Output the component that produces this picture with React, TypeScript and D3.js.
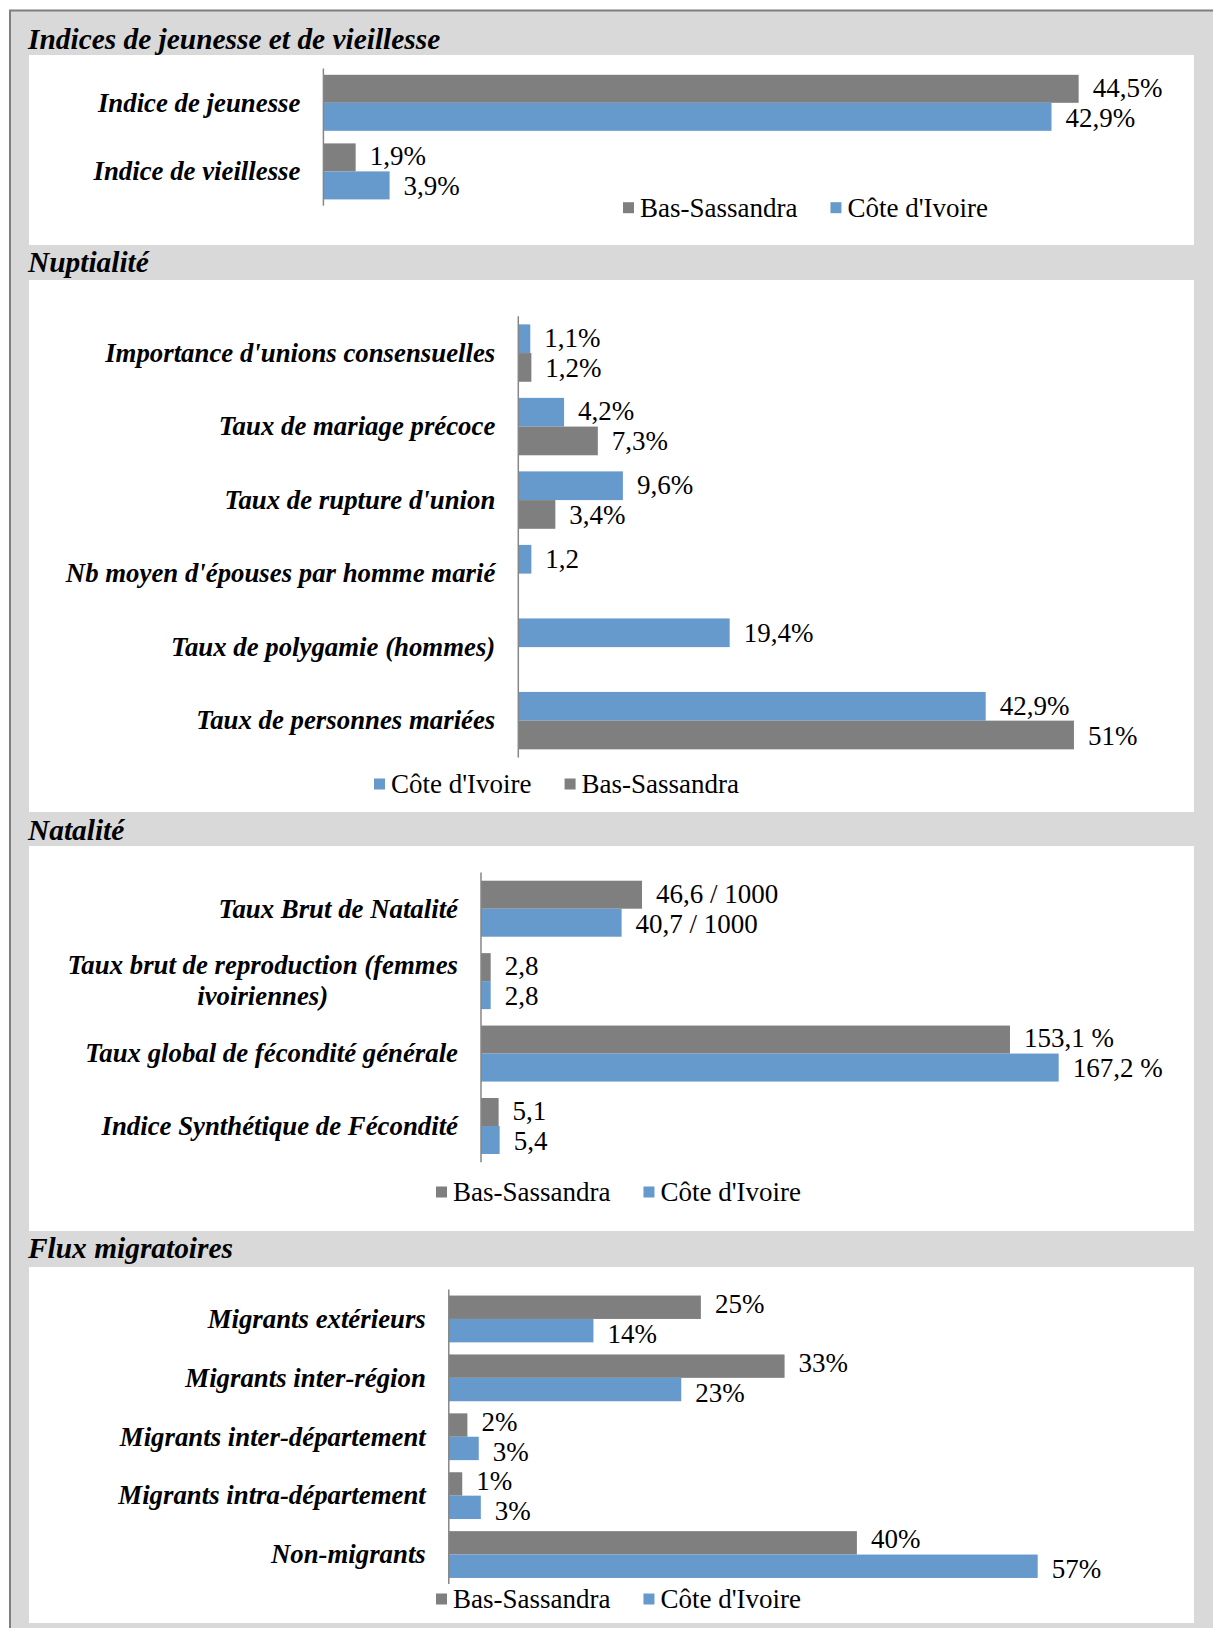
import React from 'react';
import * as d3 from 'd3';

// ---------- data ----------
const seriesNames = { bas: 'Bas-Sassandra', ci: "Côte d'Ivoire" };

const p1Title = 'Indices de jeunesse et de vieillesse';
const p1Categories = ['Indice de jeunesse', 'Indice de vieillesse'];
const p1Bas = [44.5, 1.9];
const p1BasLabels = ['44,5%', '1,9%'];
const p1Ci = [42.9, 3.9];
const p1CiLabels = ['42,9%', '3,9%'];

const p2Title = 'Nuptialité';
const p2Categories = [
  "Importance d'unions consensuelles",
  'Taux de mariage précoce',
  "Taux de rupture d'union",
  "Nb moyen d'épouses par homme marié",
  'Taux de polygamie (hommes)',
  'Taux de personnes mariées',
];
const p2Ci = [1.1, 4.2, 9.6, 1.2, 19.4, 42.9];
const p2CiLabels = ['1,1%', '4,2%', '9,6%', '1,2', '19,4%', '42,9%'];
const p2Bas = [1.2, 7.3, 3.4, null, null, 51];
const p2BasLabels = ['1,2%', '7,3%', '3,4%', null, null, '51%'];

const p3Title = 'Natalité';
const p3Categories = [
  'Taux Brut de Natalité',
  'Taux brut de reproduction (femmes\nivoiriennes)',
  'Taux global de fécondité générale',
  'Indice Synthétique de Fécondité',
];
const p3Bas = [46.6, 2.8, 153.1, 5.1];
const p3BasLabels = ['46,6 / 1000', '2,8', '153,1 %', '5,1'];
const p3Ci = [40.7, 2.8, 167.2, 5.4];
const p3CiLabels = ['40,7 / 1000', '2,8', '167,2 %', '5,4'];

const p4Title = 'Flux migratoires';
const p4Categories = [
  'Migrants extérieurs',
  'Migrants inter-région',
  'Migrants inter-département',
  'Migrants intra-département',
  'Non-migrants',
];
const p4Bas = [24.4, 32.5, 1.8, 1.3, 39.5];
const p4BasLabels = ['25%', '33%', '2%', '1%', '40%'];
const p4Ci = [14, 22.5, 2.9, 3.1, 57];
const p4CiLabels = ['14%', '23%', '3%', '3%', '57%'];

// ---------- styles ----------
const GRAY = '#7f7f7f';
const BLUE = '#6699cc';
const FONT = "'Liberation Serif', 'Times New Roman', serif";
const VAL_FS = 27;
const CAT_FS = 26.8;
const TITLE_FS = 29.4;
const LEG_FS = 27;

const measure = (text: string, font: string) => {
  const c = document.createElement('canvas').getContext('2d');
  if (!c) return text.length * 12;
  c.font = font;
  return c.measureText(text).width;
};

type Series = { key: 'bas' | 'ci'; values: (number | null)[]; labels: (string | null)[] };

type PanelProps = {
  title: string;
  titleY: number;
  panelTop: number;
  panelBottom: number;
  categories: string[];
  series: Series[]; // top to bottom within each category
  axisX: number;
  yRange: [number, number];
  barH: number;
  domainMax: number;
  legendX: number;
  legendY: number;
  legendOrder: ('bas' | 'ci')[];
};

const PANEL_LEFT = 29;
const PANEL_RIGHT = 1194;
const PLOT_RIGHT = 1172;

function Panel(p: PanelProps) {
  const x = d3.scaleLinear().domain([0, p.domainMax]).range([p.axisX, PLOT_RIGHT]);
  const y = d3.scaleBand<string>().domain(p.categories).range(p.yRange).paddingInner(0).paddingOuter(0);
  const color = (k: string) => (k === 'bas' ? GRAY : BLUE);
  const n = p.series.length;
  const labelRight = p.axisX - 23;
  const minSep = 30; // keep stacked value labels from colliding
  const push = Math.max(0, (minSep - p.barH) / 2);

  // legend layout
  const legFont = `${LEG_FS}px ${FONT}`;
  let lx = p.legendX;
  const legItems = p.legendOrder.map((k) => {
    const item = { k, x: lx };
    lx += 17 + measure(seriesNames[k], legFont) + 33;
    return item;
  });

  return (
    <g>
      <text x={28} y={p.titleY} fontFamily={FONT} fontSize={TITLE_FS} fontWeight="bold" fontStyle="italic" fill="#000">
        {p.title}
      </text>
      <rect x={PANEL_LEFT} y={p.panelTop} width={PANEL_RIGHT - PANEL_LEFT} height={p.panelBottom - p.panelTop} fill="#fff" />
      {p.categories.map((c, i) => {
        const center = (y(c) as number) + y.bandwidth() / 2;
        const present = p.series.filter((s) => s.labels[i]).length;
        return (
          <g key={c}>
            {p.series.map((s, j) => {
              const v = s.values[i];
              if (v === null || v === undefined) return null;
              const top = center - (n * p.barH) / 2 + j * p.barH;
              const lab = s.labels[i];
              const dy = present > 1 ? (j === 0 ? -push : push) : 0;
              return (
                <g key={s.key}>
                  <rect x={x(0)} y={top} width={x(v) - x(0)} height={p.barH} fill={color(s.key)} />
                  {lab && (
                    <text
                      x={x(v) + 14}
                      y={top + p.barH / 2 + VAL_FS * 0.33 + dy}
                      fontFamily={FONT}
                      fontSize={VAL_FS}
                      fill="#000"
                    >
                      {lab}
                    </text>
                  )}
                </g>
              );
            })}
            {(() => {
              const lines = c.split('\n');
              const font = `italic bold ${CAT_FS}px ${FONT}`;
              if (lines.length === 1) {
                return (
                  <text x={labelRight} y={center + CAT_FS * 0.33} textAnchor="end" fontFamily={FONT} fontSize={CAT_FS} fontWeight="bold" fontStyle="italic" fill="#000">
                    {c}
                  </text>
                );
              }
              const w0 = measure(lines[0], font);
              const cx = labelRight - w0 / 2;
              const lh = 31;
              return lines.map((ln, k) => (
                <text key={k} x={cx} y={center + CAT_FS * 0.33 + (k - (lines.length - 1) / 2) * lh} textAnchor="middle" fontFamily={FONT} fontSize={CAT_FS} fontWeight="bold" fontStyle="italic" fill="#000">
                  {ln}
                </text>
              ));
            })()}
          </g>
        );
      })}
      <line x1={p.axisX} x2={p.axisX} y1={p.yRange[0]} y2={p.yRange[1]} stroke="#868686" strokeWidth={1.5} />
      {legItems.map((it) => (
        <g key={it.k}>
          <rect x={it.x} y={p.legendY - 5.5} width={11} height={11} fill={color(it.k)} />
          <text x={it.x + 17} y={p.legendY + LEG_FS * 0.33} fontFamily={FONT} fontSize={LEG_FS} fill="#000">
            {seriesNames[it.k]}
          </text>
        </g>
      ))}
    </g>
  );
}

export default function App() {
  return (
    <svg width={1213} height={1628} style={{ position: 'absolute', left: 0, top: 0, background: '#fff' }}>
      <rect x={10} y={10.5} width={1240} height={1660} fill="#d9d9d9" stroke="#7f7f7f" strokeWidth={2} />
      <Panel
        title={p1Title}
        titleY={48.5}
        panelTop={55}
        panelBottom={245}
        categories={p1Categories}
        series={[
          { key: 'bas', values: p1Bas, labels: p1BasLabels },
          { key: 'ci', values: p1Ci, labels: p1CiLabels },
        ]}
        axisX={323.4}
        yRange={[68.5, 205.7]}
        barH={28}
        domainMax={50}
        legendX={623}
        legendY={207.7}
        legendOrder={['bas', 'ci']}
      />
      <Panel
        title={p2Title}
        titleY={272}
        panelTop={280}
        panelBottom={812}
        categories={p2Categories}
        series={[
          { key: 'ci', values: p2Ci, labels: p2CiLabels },
          { key: 'bas', values: p2Bas, labels: p2BasLabels },
        ]}
        axisX={518.3}
        yRange={[316.3, 757.4]}
        barH={28.7}
        domainMax={60}
        legendX={374}
        legendY={784}
        legendOrder={['ci', 'bas']}
      />
      <Panel
        title={p3Title}
        titleY={839.5}
        panelTop={846}
        panelBottom={1231}
        categories={p3Categories}
        series={[
          { key: 'bas', values: p3Bas, labels: p3BasLabels },
          { key: 'ci', values: p3Ci, labels: p3CiLabels },
        ]}
        axisX={481}
        yRange={[872.5, 1162.2]}
        barH={28}
        domainMax={200}
        legendX={436}
        legendY={1192}
        legendOrder={['bas', 'ci']}
      />
      <Panel
        title={p4Title}
        titleY={1257.5}
        panelTop={1267}
        panelBottom={1623}
        categories={p4Categories}
        series={[
          { key: 'bas', values: p4Bas, labels: p4BasLabels },
          { key: 'ci', values: p4Ci, labels: p4CiLabels },
        ]}
        axisX={448.8}
        yRange={[1289.5, 1584]}
        barH={23.4}
        domainMax={70}
        legendX={436}
        legendY={1599}
        legendOrder={['bas', 'ci']}
      />
    </svg>
  );
}
